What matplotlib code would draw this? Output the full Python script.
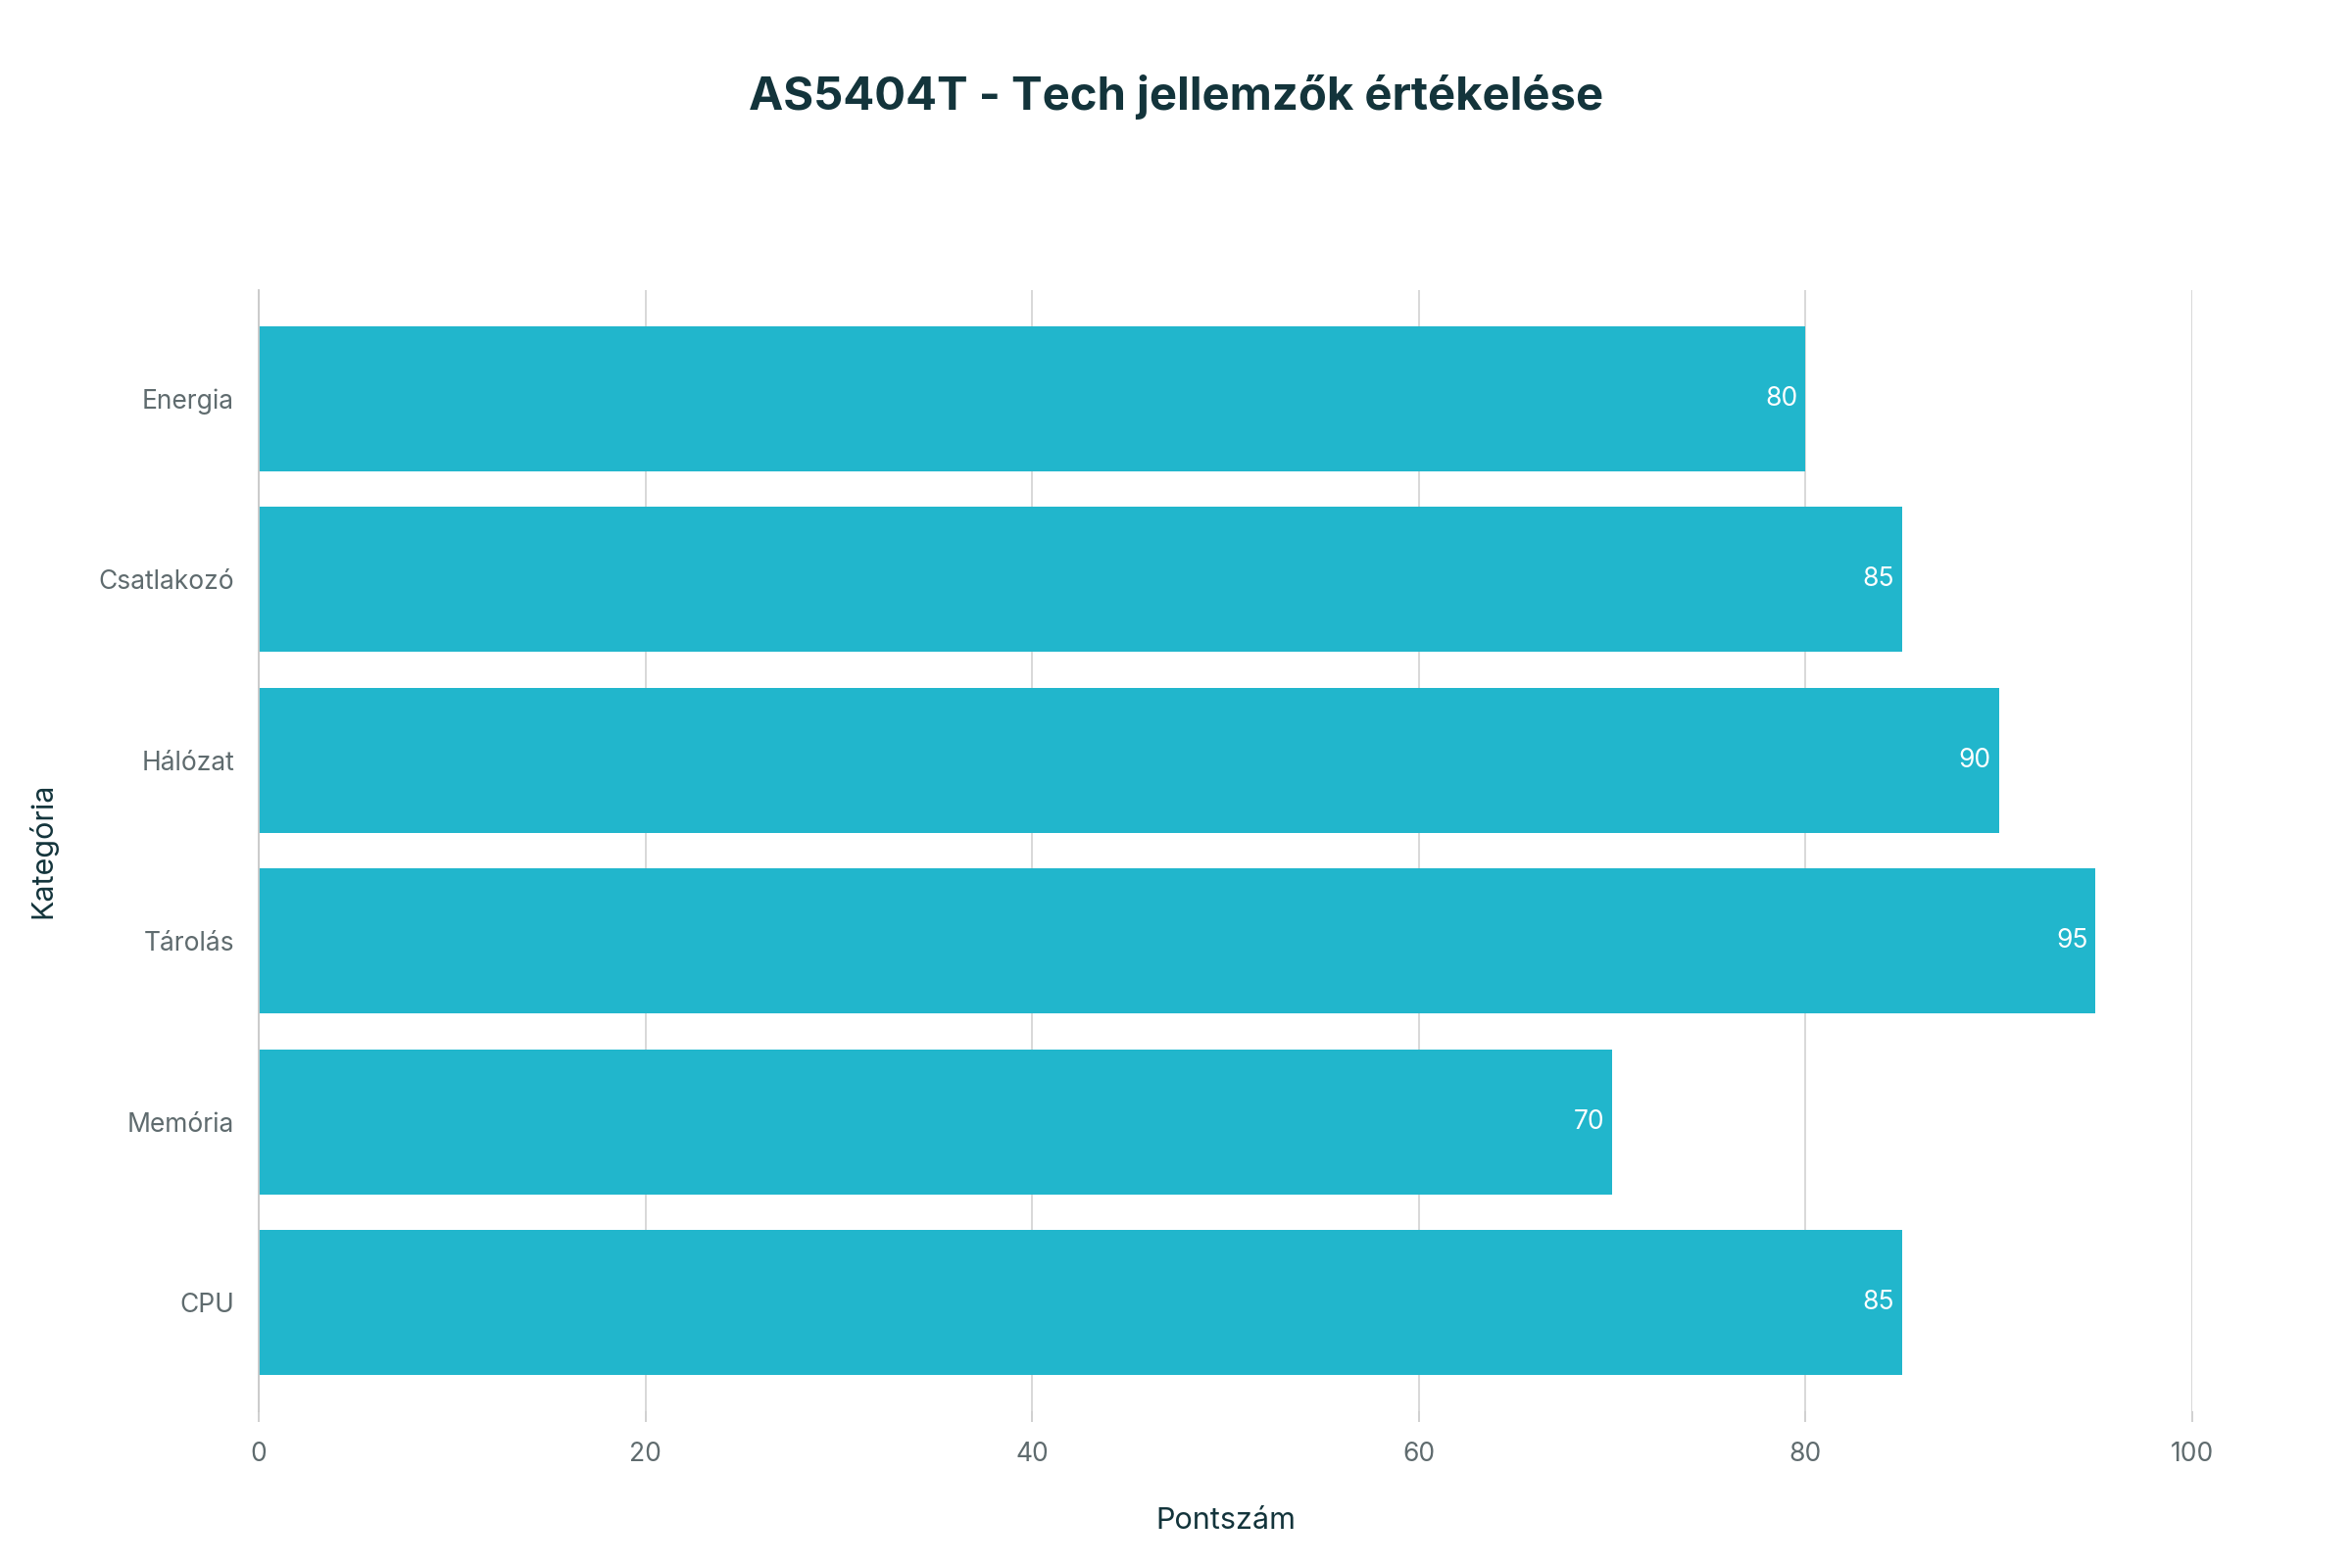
import matplotlib
matplotlib.use('Agg')
import matplotlib.pyplot as plt

categories = ['CPU', 'Memória', 'Tárolás', 'Hálózat', 'Csatlakozó', 'Energia']
scores = [85, 70, 95, 90, 85, 80]
xticks = [0, 20, 40, 60, 80, 100]

BAR = '#21b6cc'
DARK = '#13343b'
GREY = '#5f6b6e'

plt.rcParams['font.family'] = 'Inter'

fig = plt.figure(figsize=(24, 16), dpi=100)
ax = fig.add_axes([0.110, 0.10, 0.822, 0.715])

y = range(len(categories))
ax.barh(y, scores, height=0.8, color=BAR, zorder=2)
for yi, v in zip(y, scores):
    ax.text(v - 0.4, yi, str(v), color='white', ha='right', va='center',
            fontsize=19, zorder=3)

ax.set_xlim(0, 100)
ax.set_ylim(-0.6, len(categories) - 0.4)
ax.set_xticks(xticks)
ax.set_yticks(list(y))
ax.set_yticklabels(categories)
ax.tick_params(axis='both', colors='#c8c8c8', labelcolor=GREY, labelsize=19,
               length=8, width=1.2)
ax.tick_params(axis='x', pad=14)
ax.tick_params(axis='y', length=0, pad=18)
ax.grid(axis='x', color='#d5d5d5', linewidth=1.3, zorder=0)
for s in ['top', 'right', 'bottom']:
    ax.spines[s].set_visible(False)
ax.spines['left'].set_color('#c8c8c8')
ax.spines['left'].set_linewidth(1.3)

ax.set_xlabel('Pontszám', fontsize=22, color=DARK, labelpad=30)
ax.set_ylabel('Kategória', fontsize=22, color=DARK, labelpad=30)

fig.text(0.5, 0.938, 'AS5404T - Tech jellemzők értékelése', ha='center',
         va='center', fontsize=34, fontweight='bold', color=DARK)

fig.savefig('out.png', dpi=100)
